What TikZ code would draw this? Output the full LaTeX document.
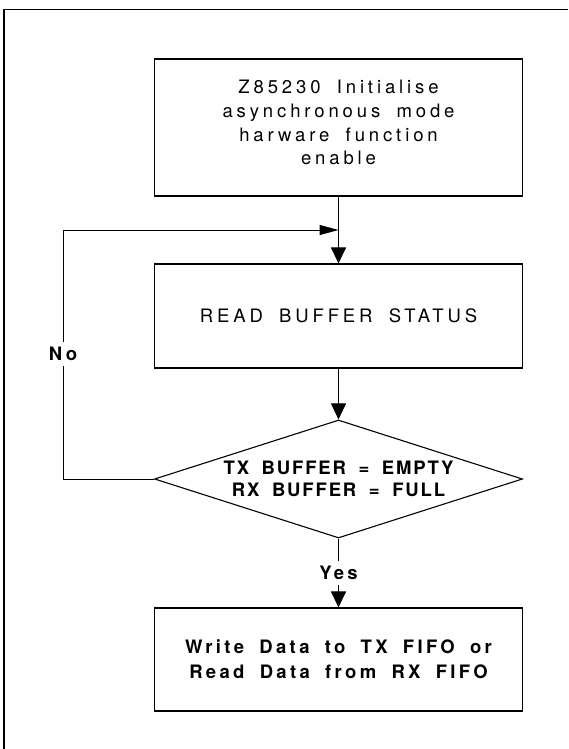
\documentclass[tikz,border=0pt]{standalone}
\usepackage{fontspec}
\setmainfont{TeX Gyre Heros}
\newfontfamily\regtrack[LetterSpace=21,WordSpace=1.8]{TeX Gyre Heros}
\newfontfamily\dmdtrack[LetterSpace=10,WordSpace=1.8]{TeX Gyre Heros}
\newfontfamily\boxtrack[LetterSpace=18,WordSpace=1.8]{TeX Gyre Heros}
\usetikzlibrary{shapes.geometric,arrows.meta}
\begin{document}
\begin{tikzpicture}[x=1pt,y=-1pt,
  stepbox/.style={draw, line width=1.1pt, minimum width=368pt, minimum height=#1, inner sep=0pt, align=center},
  decision/.style={draw, line width=1.1pt, diamond, aspect=3.12, minimum width=368pt, minimum height=118pt, inner sep=0pt, align=center},
  regtext/.style={font=\regtrack\fontsize{18.5}{23.7}\selectfont},
  dmdtext/.style={font=\dmdtrack\bfseries\fontsize{18.5}{21.7}\selectfont},
  boxtext/.style={font=\boxtrack\bfseries\fontsize{18.5}{25}\selectfont},
  lbl/.style={font=\boxtrack\bfseries\fontsize{18.5}{20}\selectfont, fill=white, inner sep=5pt},
  conn/.style={line width=1pt},
  arr/.style={conn, -{Triangle[length=16pt,width=15pt]}},
  arrloop/.style={conn, -{Triangle[length=19pt,width=10pt]}},
  frame/.style={line width=1.2pt}
]
\useasboundingbox (0,0) rectangle (568,749);
% outer frame (top and left sides visible)
\coordinate (frbl) at (4,749);
\coordinate (frtl) at (4,9.3);
\coordinate (frtr) at (568,9.3);
\draw[frame] (frbl) -- (frtl) -- (frtr);

\node[stepbox=137pt, regtext] (b1) at (338.5,127.5)
  {Z85230 Initialise\\asynchronous mode\\harware function\\enable\rule[-10pt]{0pt}{10pt}};
\node[stepbox=104pt, regtext] (b2) at (338.5,316) {READ BUFFER STATUS};
\node[decision, dmdtext] (d) at (338.5,479) {TX BUFFER = EMPTY\\RX BUFFER = FULL};
\node[stepbox=103pt, boxtext] (b3) at (338.5,659.5) {Write Data to TX FIFO or\\Read Data from RX FIFO};

\node[lbl] (yes) at (338.5,573) {Yes};
\node[lbl, inner sep=4.5pt] (no) at (63,354) {No};

\coordinate (join) at (338.5,230);
\coordinate (lc) at (63,479);

\draw[arr] (b1.south) -- (b2.north);
\draw[arr] (b2.south) -- (d.north);
\draw[conn] (d.west) -- (lc) -- (no);
\draw[arrloop] (no) |- (join);
\draw[conn] (d.south) -- (yes);
\draw[arr] (yes) -- (b3.north);
\end{tikzpicture}
\end{document}
